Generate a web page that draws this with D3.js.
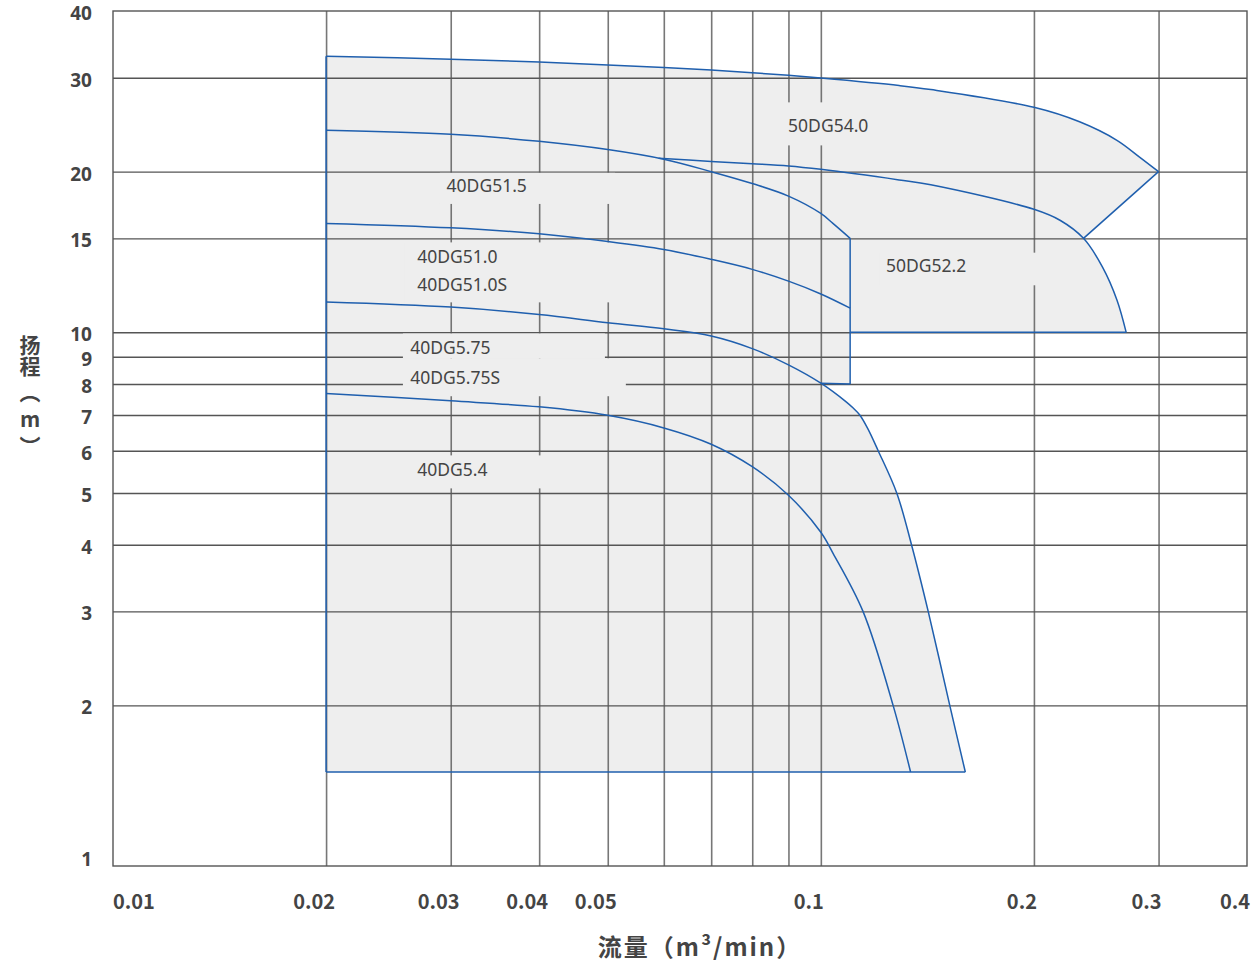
<!DOCTYPE html>
<html><head><meta charset="utf-8">
<script src="https://cdn.jsdelivr.net/npm/d3@7"></script>
<style>
html,body{margin:0;padding:0;background:#fff;}
svg{display:block;}
</style></head><body>
<svg id="chart" width="1258" height="963"></svg>
<script>
// ---------- data ----------
const flowTicks = [0.01, 0.02, 0.03, 0.04, 0.05, 0.1, 0.2, 0.3, 0.4];
const flowTickLabels = ["0.01", "0.02", "0.03", "0.04", "0.05", "0.1", "0.2", "0.3", "0.4"];
const headTicks = [1, 2, 3, 4, 5, 6, 7, 8, 9, 10, 15, 20, 30, 40];
const headTickLabels = ["1", "2", "3", "4", "5", "6", "7", "8", "9", "10", "15", "20", "30", "40"];
const flowGrid = [0.02, 0.03, 0.04, 0.05, 0.06, 0.07, 0.08, 0.09, 0.1, 0.2, 0.3];
const headGrid = [2, 3, 4, 5, 6, 7, 8, 9, 10, 15, 20, 30];

// pump curves: [flow m3/min, head m]
const c50DG54_0 = [[0.02,32.9],[0.03,32.5],[0.04,32.1],[0.05,31.7],[0.06,31.35],[0.07,31.0],[0.08,30.65],[0.09,30.3],[0.1,29.95],[0.129,29.0],[0.143,28.5],[0.2,26.4],[0.232,24.8],[0.262,22.9],[0.282,21.3],[0.3,20.0]];
const c40DG51_5 = [[0.02,23.9],[0.03,23.5],[0.04,22.8],[0.05,22.0],[0.06,21.1],[0.07,20.0],[0.08,19.0],[0.09,18.0],[0.1,16.7],[0.104,16.0],[0.11,15.0]];
const c50DG52_2 = [[0.059,21.2],[0.07,20.9],[0.08,20.7],[0.09,20.5],[0.1,20.2],[0.129,19.3],[0.143,18.9],[0.2,17.0],[0.218,16.2],[0.235,15.0],[0.25,13.25],[0.262,11.5],[0.27,10.0]];
const c40DG51_0 = [[0.02,16.0],[0.03,15.7],[0.04,15.3],[0.05,14.8],[0.06,14.3],[0.07,13.7],[0.08,13.12],[0.09,12.47],[0.1,11.8],[0.11,11.1]];
const c40DG5_75 = [[0.02,11.4],[0.03,11.15],[0.04,10.8],[0.05,10.42],[0.06,10.15],[0.07,9.84],[0.08,9.32],[0.09,8.69],[0.1,8.03],[0.1087,7.4],[0.111,7.22],[0.1135,7.0],[0.1165,6.6],[0.1205,6.0],[0.128,5.0],[0.1343,4.0],[0.1418,3.0],[0.1521,2.0],[0.16,1.5]];
const c40DG5_4 = [[0.02,7.68],[0.03,7.44],[0.04,7.25],[0.05,6.99],[0.06,6.62],[0.07,6.17],[0.08,5.6],[0.09,4.95],[0.1,4.22],[0.1041,3.85],[0.1147,3.0],[0.1265,2.0],[0.1339,1.5]];

// boundary segments of the covered range
const leftEdge = [[0.02,1.5],[0.02,32.9]];
const bottomEdge = [[0.16,1.5],[0.02,1.5]];
const shoulder = [[0.3,20.0],[0.235,15.0]];
const floor10 = [[0.27,10],[0.11,10]];
const wall = [[0.11,15],[0.11,8]];
const step8 = [[0.11,8],[0.1,8.03]];

// model labels
const modelLabels = ["50DG54.0","40DG51.5","40DG51.0","40DG51.0S","40DG5.75","40DG5.75S","40DG5.4","50DG52.2"];
const labelFlow = [0.0899,0.0296,0.0269,0.0269,0.0263,0.0263,0.0269,0.1236];
const labelHead = [24.5,18.85,13.9,12.3,9.37,8.24,5.54,13.35];

// label background areas [flow0, flow1, headTop, headBottom]
const boxFlow0 = [0.0890,0.02896,0.02584,0.02568,0.02568,0.02627,0.1212];
const boxFlow1 = [0.1204,0.0512,0.0512,0.04954,0.05303,0.04874,0.2039];
const boxHeadTop = [26.97,19.9,14.74,9.95,8.94,5.88,14.1];
const boxHeadBot = [22.4,17.4,11.38,8.94,7.59,5.10,12.25];

// ---------- drawing ----------
const svg = d3.select("#chart");
const L = 113, R = 1247, T = 11, B = 866;
const x = d3.scaleLog().domain([0.01, 0.4]).range([L, R]);
const y = d3.scaleLog().domain([1, 40]).range([B, T]);

const BLUE = "#1f5fae", GRID = "#555", TXT = "#444";
const smooth = d3.line().x(d => x(d[0])).y(d => y(d[1])).curve(d3.curveCatmullRom.alpha(0.5));
const straight = d3.line().x(d => x(d[0])).y(d => y(d[1]));

// fill
const parts = [
  straight(leftEdge),
  smooth(c50DG54_0),
  straight(shoulder),
  smooth(c50DG52_2.filter(d => d[0] >= 0.235)),
  straight(floor10),
  straight(wall),
  straight(step8),
  smooth(c40DG5_75.filter(d => d[0] >= 0.1)),
  straight(bottomEdge)
];
const outline = parts.map((p, i) => i ? p.replace(/^M/, "L") : p).join("") + "Z";
svg.append("path").attr("d", outline).attr("fill", "#eeeeee").attr("stroke", "none");

// grid via axes
const gx = svg.append("g").attr("transform", `translate(0,${B})`)
  .call(d3.axisBottom(x).tickValues(flowGrid).tickSize(-(B - T)).tickFormat(""));
gx.select(".domain").remove();
gx.selectAll("line").attr("stroke", GRID).attr("stroke-width", 1.6).attr("stroke-opacity", 0.8);
const gy = svg.append("g").attr("transform", `translate(${L},0)`)
  .call(d3.axisLeft(y).tickValues(headGrid).tickSize(-(R - L)).tickFormat(""));
gy.select(".domain").remove();
gy.selectAll("line").attr("stroke", GRID).attr("stroke-width", 1.4);

// frame
svg.append("rect").attr("x", L).attr("y", T).attr("width", R - L).attr("height", B - T)
  .attr("fill", "none").attr("stroke", GRID).attr("stroke-width", 1.4);

// label background boxes
svg.append("g").selectAll("rect").data(boxFlow0).join("rect")
  .attr("x", (d, i) => x(boxFlow0[i]))
  .attr("y", (d, i) => y(boxHeadTop[i]))
  .attr("width", (d, i) => x(boxFlow1[i]) - x(boxFlow0[i]))
  .attr("height", (d, i) => y(boxHeadBot[i]) - y(boxHeadTop[i]))
  .attr("fill", "#eeeeee");

// curves
const curves = [c50DG54_0, c40DG51_5, c50DG52_2, c40DG51_0, c40DG5_75, c40DG5_4];
svg.append("g").selectAll("path").data(curves).join("path")
  .attr("d", smooth).attr("fill", "none").attr("stroke", BLUE).attr("stroke-width", 1.5);
const segs = [leftEdge, bottomEdge, shoulder, floor10, wall, step8];
svg.append("g").selectAll("path").data(segs).join("path")
  .attr("d", straight).attr("fill", "none").attr("stroke", BLUE).attr("stroke-width", 1.5);

// model labels
svg.append("g").selectAll("text").data(modelLabels).join("text")
  .attr("x", (d, i) => x(labelFlow[i]))
  .attr("y", (d, i) => y(labelHead[i]))
  .attr("dominant-baseline", "central")
  .attr("font-family", "'Noto Sans', 'Open Sans', sans-serif")
  .attr("font-size", 17.5).attr("fill", TXT)
  .text(d => d);

// tick labels
svg.append("g").selectAll("text").data(flowTicks).join("text")
  .attr("x", (d, i) => i === 0 ? x(d) : x(d) - 12)
  .attr("y", 900)
  .attr("text-anchor", (d, i) => i === 0 ? "start" : "middle")
  .attr("dominant-baseline", "central")
  .attr("font-family", "'Noto Sans CJK SC', 'Noto Sans', sans-serif")
  .attr("font-weight", "bold").attr("font-size", 20).attr("fill", TXT)
  .text((d, i) => flowTickLabels[i]);

svg.append("g").selectAll("text").data(headTicks).join("text")
  .attr("x", 92)
  .attr("y", d => d === 1 ? y(d) - 7 : y(d) + 2)
  .attr("text-anchor", "end")
  .attr("dominant-baseline", "central")
  .attr("font-family", "'Noto Sans', sans-serif")
  .attr("font-weight", "bold").attr("font-size", 19).attr("fill", TXT)
  .text((d, i) => headTickLabels[i]);

// axis titles
svg.append("text").attr("x", 700).attr("y", 945)
  .attr("text-anchor", "middle").attr("dominant-baseline", "central")
  .attr("font-family", "'Noto Sans CJK SC', sans-serif")
  .attr("font-weight", "bold").attr("font-size", 24).attr("fill", TXT)
  .attr("letter-spacing", 2)
  .text("流量（m³/min）");

svg.append("text").attr("x", 30).attr("y", 335)
  .attr("style", "writing-mode: vertical-rl; text-orientation: upright;")
  .attr("font-family", "'Noto Sans CJK SC', sans-serif")
  .attr("font-weight", "bold").attr("font-size", 21).attr("fill", TXT)
  .attr("dy", "0 0 5 6 6")
  .text("扬程（m）");
</script>
</body></html>
